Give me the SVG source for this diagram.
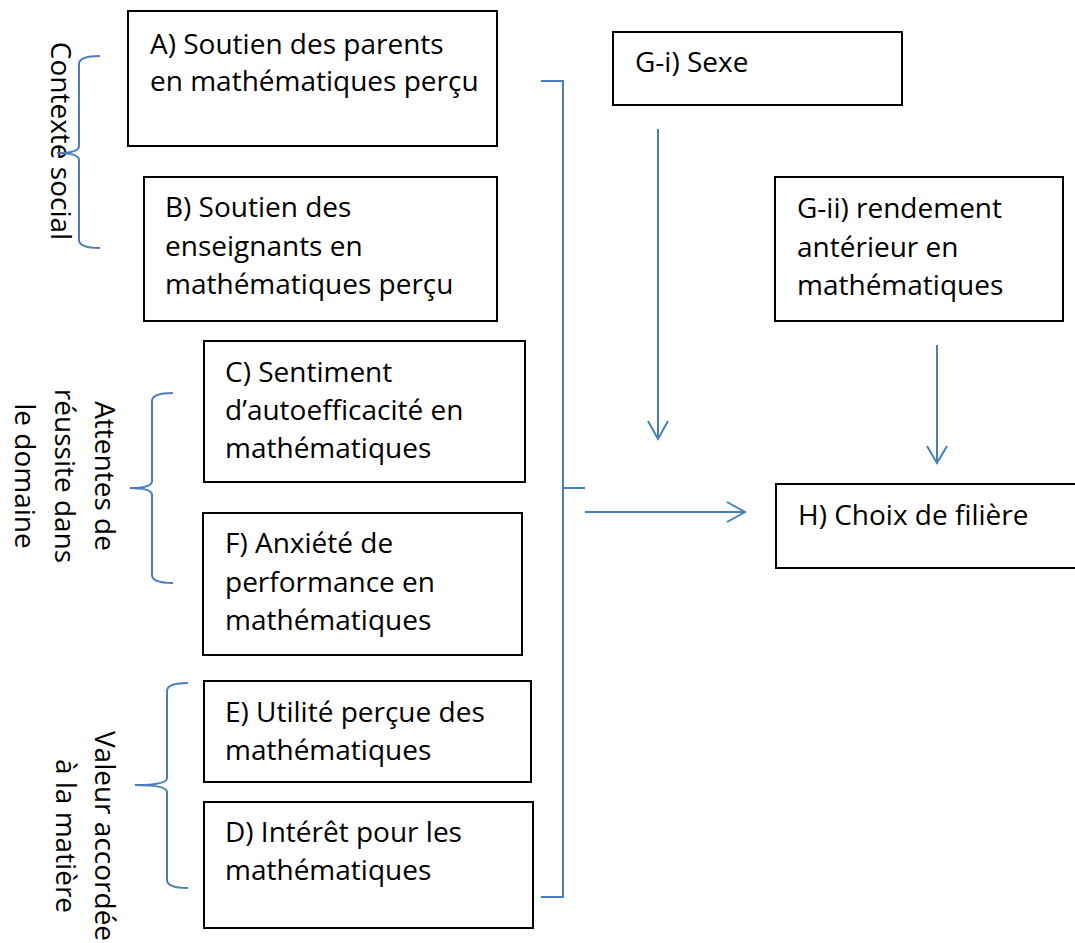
<svg xmlns="http://www.w3.org/2000/svg" width="1075" height="943" viewBox="0 0 1075 943">
<style>
.box{fill:#fff;stroke:#000;stroke-width:2}
.t{font-family:"Open Sans","Liberation Sans",sans-serif;font-size:28px;fill:#000}
.rt{font-family:"Open Sans","Liberation Sans",sans-serif;font-size:28px;fill:#000;text-anchor:middle}
.ln{fill:none;stroke:#4A7EBB;stroke-width:2}
</style>
<rect width="1075" height="943" fill="#fff"/>
<g id="labels">
<text class="rt" transform="translate(51,141) rotate(90)">Contexte social</text>
<text class="rt" transform="translate(95,476) rotate(90)">Attentes de</text>
<text class="rt" transform="translate(55,476) rotate(90)">réussite dans</text>
<text class="rt" transform="translate(15,476) rotate(90)">le domaine</text>
<text class="rt" transform="translate(95,836) rotate(90)">Valeur accordée</text>
<text class="rt" transform="translate(56,836) rotate(90)">à la matière</text>
</g>
<g id="connectors">
<path class="ln" d="M100,56 Q79,56 79,64 L79,146 Q79,153 57,153 Q79,153 79,160 L79,240 Q79,248 100,248"/>
<path class="ln" d="M173,393 Q152,393 152,401 L152,481 Q152,488 130,488 Q152,488 152,495 L152,575 Q152,583 173,583"/>
<path class="ln" d="M188,683 Q167,683 167,691 L167,778 Q167,785 135,785 Q167,785 167,792 L167,880 Q167,888 188,888"/>
<path class="ln" d="M541,81 L563,81 L563,897 L541,897 M563,488 L585,488"/>
<path class="ln" d="M585,512 L745,512 M727,502 L745,512 L727,522"/>
<path class="ln" d="M658,129 L658,439 M648,421 L658,439 L668,421"/>
<path class="ln" d="M937,345 L937,463 M927,446 L937,463 L947,446"/>
</g>
<g id="nodeA"><rect class="box" x="128" y="11" width="369" height="135"/>
<text class="t" x="150" y="54">A) Soutien des parents</text><text class="t" x="150" y="91">en mathématiques perçu</text></g>
<g id="nodeB"><rect class="box" x="144" y="177" width="353" height="144"/>
<text class="t" x="165" y="217">B) Soutien des</text><text class="t" x="165" y="256">enseignants en</text><text class="t" x="165" y="294">mathématiques perçu</text></g>
<g id="nodeC"><rect class="box" x="204" y="341" width="321" height="141"/>
<text class="t" x="225" y="382">C) Sentiment</text><text class="t" x="225" y="420">d’autoefficacité en</text><text class="t" x="225" y="458">mathématiques</text></g>
<g id="nodeF"><rect class="box" x="203" y="513" width="319" height="142"/>
<text class="t" x="225" y="553">F) Anxiété de</text><text class="t" x="225" y="592">performance en</text><text class="t" x="225" y="630">mathématiques</text></g>
<g id="nodeE"><rect class="box" x="204" y="681" width="327" height="101"/>
<text class="t" x="225" y="722">E) Utilité perçue des</text><text class="t" x="225" y="760">mathématiques</text></g>
<g id="nodeD"><rect class="box" x="204" y="802" width="329" height="126"/>
<text class="t" x="225" y="842">D) Intérêt pour les</text><text class="t" x="225" y="880">mathématiques</text></g>
<g id="nodeGi"><rect class="box" x="613" y="32" width="289" height="73"/>
<text class="t" x="635" y="72">G-i) Sexe</text></g>
<g id="nodeGii"><rect class="box" x="775" y="177" width="288" height="144"/>
<text class="t" x="797" y="218">G-ii) rendement</text><text class="t" x="797" y="257">antérieur en</text><text class="t" x="797" y="295">mathématiques</text></g>
<g id="nodeH"><rect class="box" x="776" y="484" width="310" height="84"/>
<text class="t" x="798" y="525">H) Choix de filière</text></g>
</svg>
